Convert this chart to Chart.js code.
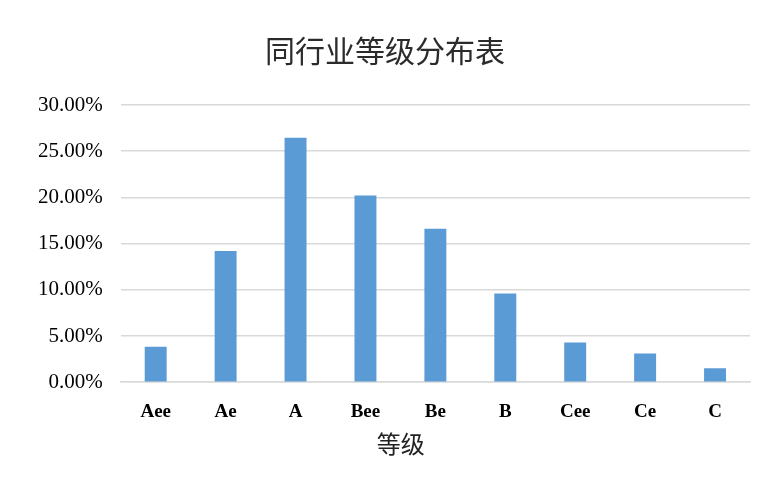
<!DOCTYPE html>
<html>
<head>
<meta charset="utf-8">
<script src="https://cdn.jsdelivr.net/npm/chart.js@4"></script>
<style>
  html, body { margin: 0; padding: 0; background: #fff; }
  #wrap { width: 767px; height: 499px; position: relative; }
</style>
</head>
<body>
<div id="wrap"><canvas id="chart"></canvas></div>
<script>
const grades = ["Aee", "Ae", "A", "Bee", "Be", "B", "Cee", "Ce", "C"];
const shares = [3.85, 14.2, 26.45, 20.2, 16.6, 9.6, 4.3, 3.1, 1.5];
const yTicks = [0, 5, 10, 15, 20, 25, 30];
const chartTitle = "同行业等级分布表";
const xTitle = "等级";

// axis title sits a little left of the plot centre in the original
const xTitlePlugin = {
  id: 'xTitle',
  afterDraw(chart) {
    const { ctx, chartArea } = chart;
    ctx.save();
    ctx.font = '24px "Noto Sans CJK SC"';
    ctx.fillStyle = '#222';
    ctx.textAlign = 'center';
    ctx.textBaseline = 'middle';
    ctx.fillText(xTitle, chartArea.left + 0.445 * (chartArea.right - chartArea.left), 444);
    ctx.restore();
  }
};

const ctx = document.getElementById('chart').getContext('2d');
new Chart(ctx, {
  type: 'bar',
  data: {
    labels: grades,
    datasets: [{
      data: shares,
      backgroundColor: '#5b9bd5',
      barPercentage: 0.314,
      categoryPercentage: 1
    }]
  },
  options: {
    responsive: true,
    maintainAspectRatio: false,
    animation: false,
    layout: { padding: { left: 20, right: 17, bottom: 58, top: 0 } },
    plugins: {
      legend: { display: false },
      tooltip: { enabled: false },
      title: {
        display: true,
        text: chartTitle,
        color: '#2b2b2b',
        font: { family: '"Noto Sans CJK SC"', size: 30, weight: 'normal' },
        padding: { top: 33, bottom: 36 }
      }
    },
    scales: {
      x: {
        grid: { display: false, drawTicks: false },
        border: { color: '#d9d9d9', width: 1.5 },
        ticks: {
          color: '#000',
          padding: 18,
          font: { family: '"Liberation Serif"', size: 19, weight: 'bold' }
        }
      },
      y: {
        min: 0,
        max: 30,
        afterBuildTicks(axis) { axis.ticks = yTicks.map(v => ({ value: v })); },
        grid: { color: '#d9d9d9', lineWidth: 1.5, drawTicks: false },
        border: { display: false },
        ticks: {
          color: '#000',
          padding: 18,
          font: { family: '"Liberation Serif"', size: 21 },
          callback: v => v.toFixed(2) + '%'
        }
      }
    }
  },
  plugins: [xTitlePlugin]
});
</script>
</body>
</html>
